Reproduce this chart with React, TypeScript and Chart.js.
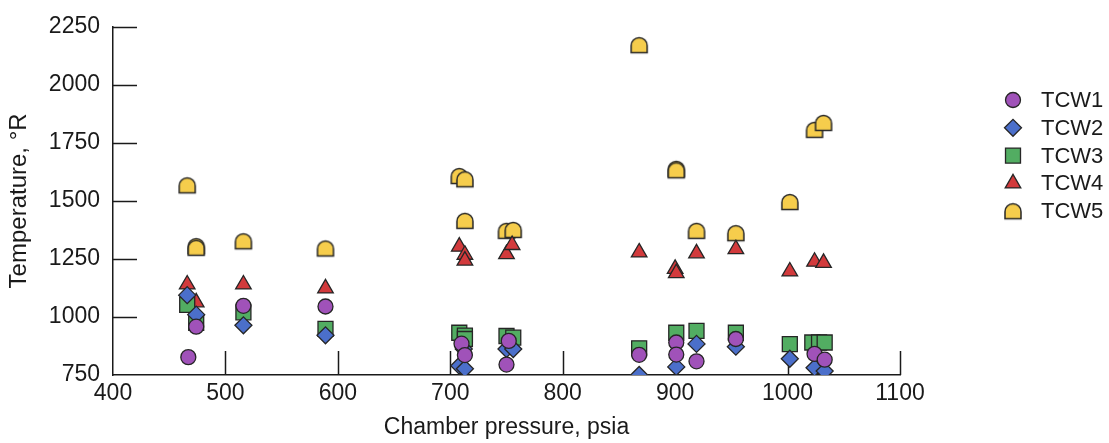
import React, { useEffect, useRef } from 'react';
import { Chart, registerables } from 'chart.js';
import { drawPoint } from 'chart.js/helpers';

Chart.register(...registerables);

const seriesNames = ['TCW1', 'TCW2', 'TCW3', 'TCW4', 'TCW5'];
const xTickValues = [400, 500, 600, 700, 800, 900, 1000, 1100];
const yTickValues = [750, 1000, 1250, 1500, 1750, 2000, 2250];

const tcw1Pressure = [467, 474, 516, 589, 710, 713, 752, 750, 868, 901, 901, 919, 954, 1024, 1033];
const tcw1Temp = [827, 958, 1048, 1045, 885, 836, 897, 795, 837, 890, 838, 809, 905, 841, 816];

const tcw2Pressure = [466, 474, 516, 589, 708, 713, 712, 750, 756, 868, 901, 919, 954, 1002, 1024, 1033];
const tcw2Temp = [1094, 1010, 964, 921, 790, 777, 862, 862, 862, 750, 785, 884, 872, 820, 781, 767];

const tcw3Pressure = [466, 474, 516, 589, 708, 713, 713, 750, 756, 868, 901, 919, 954, 1002, 1022, 1028, 1033];
const tcw3Temp = [1052, 975, 1020, 949, 932, 920, 905, 918, 911, 865, 932, 940, 932, 883, 890, 890, 890];

const tcw4Pressure = [466, 474, 516, 589, 708, 713, 713, 750, 755, 868, 900, 901, 919, 954, 1002, 1024, 1032];
const tcw4Temp = [1140, 1063, 1140, 1123, 1303, 1268, 1243, 1271, 1310, 1278, 1207, 1189, 1274, 1292, 1196, 1238, 1233];

const tcw5Pressure = [466, 474, 474, 516, 589, 708, 713, 713, 750, 756, 868, 901, 901, 919, 954, 1002, 1024, 1032];
const tcw5Temp = [1567, 1305, 1298, 1326, 1295, 1607, 1593, 1414, 1371, 1375, 2171, 1638, 1632, 1371, 1361, 1495, 1806, 1836];

const FONT = '"Liberation Sans", Arial, Helvetica, sans-serif';
const TEXT = '#1a1a1a';
const EDGE = '#262626';

function makeDome(): HTMLCanvasElement {
  const c = document.createElement('canvas');
  c.width = 20;
  c.height = 20;
  const g = c.getContext('2d')!;
  const left = 2, right = 18, top = 2.5, bottom = 17.5;
  const r = (right - left) / 2;
  const cx = (left + right) / 2;
  g.beginPath();
  g.moveTo(left, bottom);
  g.lineTo(left, top + r);
  g.arc(cx, top + r, r, Math.PI, 0, false);
  g.lineTo(right, bottom);
  g.closePath();
  g.fillStyle = '#f6cd4c';
  g.fill();
  g.lineWidth = 1.5;
  g.strokeStyle = EDGE;
  g.stroke();
  return c;
}

function pts(xs: number[], ys: number[]) {
  return xs.map((x, i) => ({ x, y: ys[i] }));
}

export default function App() {
  const ref = useRef<HTMLCanvasElement>(null);

  useEffect(() => {
    if (!ref.current) return;
    const dome = makeDome();

    const tickPlugin = {
      id: 'inwardTicks',
      beforeDatasetsDraw(chart: any) {
        const { ctx, chartArea, scales } = chart;
        ctx.save();
        ctx.strokeStyle = TEXT;
        ctx.lineWidth = 1.5;
        const len = 24;
        xTickValues.forEach((v) => {
          if (v === xTickValues[0]) return;
          const px = Math.round(scales.x.getPixelForValue(v)) + 0.5;
          ctx.beginPath();
          ctx.moveTo(px, chartArea.bottom);
          ctx.lineTo(px, chartArea.bottom - len);
          ctx.stroke();
        });
        yTickValues.forEach((v) => {
          if (v === yTickValues[0]) return;
          const py = Math.round(scales.y.getPixelForValue(v)) + 0.5;
          ctx.beginPath();
          ctx.moveTo(chartArea.left, py);
          ctx.lineTo(chartArea.left + len, py);
          ctx.stroke();
        });
        ctx.restore();
      },
    };

    const legendPlugin = {
      id: 'sideLegend',
      afterDraw(chart: any) {
        const { ctx } = chart;
        ctx.save();
        chart.data.datasets.forEach((ds: any, i: number) => {
          const y = 100 + i * 27.8;
          const x = 1013;
          ctx.fillStyle = ds.backgroundColor;
          ctx.strokeStyle = ds.borderColor;
          ctx.lineWidth = ds.borderWidth;
          drawPoint(ctx, { pointStyle: ds.pointStyle, radius: ds.pointRadius, borderWidth: ds.borderWidth, rotation: 0 } as any, x, y);
          ctx.fillStyle = TEXT;
          ctx.font = `22px ${FONT}`;
          ctx.textAlign = 'left';
          ctx.textBaseline = 'middle';
          ctx.fillText(ds.label, 1041, y + 1);
        });
        ctx.restore();
      },
    };

    const chart = new Chart(ref.current, {
      type: 'scatter',
      data: {
        datasets: [
          { label: seriesNames[0], data: pts(tcw1Pressure, tcw1Temp), pointStyle: 'circle', pointRadius: 7.5, backgroundColor: '#a052b9', borderColor: EDGE, borderWidth: 1.3 },
          { label: seriesNames[1], data: pts(tcw2Pressure, tcw2Temp), pointStyle: 'rectRot', pointRadius: 8.5, backgroundColor: '#4b6fca', borderColor: EDGE, borderWidth: 1.3 },
          { label: seriesNames[2], data: pts(tcw3Pressure, tcw3Temp), pointStyle: 'rect', pointRadius: 10.6, backgroundColor: '#52ad62', borderColor: EDGE, borderWidth: 1.3 },
          { label: seriesNames[3], data: pts(tcw4Pressure, tcw4Temp), pointStyle: 'triangle', pointRadius: 9, backgroundColor: '#d23a3c', borderColor: EDGE, borderWidth: 1.3 },
          { label: seriesNames[4], data: pts(tcw5Pressure, tcw5Temp), pointStyle: dome as any, pointRadius: 8, backgroundColor: '#f6cd4c', borderColor: EDGE, borderWidth: 1.3 },
        ] as any,
      },
      options: {
        animation: false,
        responsive: false,
        maintainAspectRatio: false,
        events: [],
        layout: { padding: { top: 19, right: 209, bottom: 0, left: 0 } },
        plugins: {
          legend: { display: false },
          tooltip: { enabled: false },
        },
        scales: {
          x: {
            type: 'linear',
            min: 400,
            max: 1100,
            grid: { display: false, drawTicks: false },
            border: { display: true, color: TEXT, width: 1.5 },
            afterBuildTicks: (scale: any) => {
              scale.ticks = xTickValues.map((v) => ({ value: v }));
            },
            ticks: {
              font: { family: FONT, size: 23 },
              color: TEXT,
              padding: 5,
              maxRotation: 0,
              autoSkip: false,
              callback: (v: any) => String(v),
            },
            title: { display: true, text: 'Chamber pressure, psia', font: { family: FONT, size: 23 }, color: TEXT, padding: { top: 0, bottom: 2 } },
            afterFit: (scale: any) => {
              scale.height = 68;
            },
          },
          y: {
            type: 'linear',
            min: 750,
            max: 2250,
            grid: { display: false, drawTicks: false },
            border: { display: true, color: TEXT, width: 1.5 },
            afterBuildTicks: (scale: any) => {
              scale.ticks = yTickValues.map((v) => ({ value: v }));
            },
            ticks: {
              font: { family: FONT, size: 23 },
              color: TEXT,
              padding: 13,
              autoSkip: false,
              callback: (v: any) => String(v),
            },
            title: { display: true, text: 'Temperature, °R', font: { family: FONT, size: 24 }, color: TEXT, padding: { top: 5, bottom: 0 } },
            afterFit: (scale: any) => {
              scale.width = 113;
            },
          },
        },
      },
      plugins: [tickPlugin, legendPlugin],
    });

    return () => chart.destroy();
  }, []);

  return (
    <div style={{ position: 'absolute', left: 0, top: 0, width: 1109, height: 443, background: '#ffffff' }}>
      <canvas ref={ref} width={1109} height={443} style={{ display: 'block', width: 1109, height: 443 }} />
    </div>
  );
}
